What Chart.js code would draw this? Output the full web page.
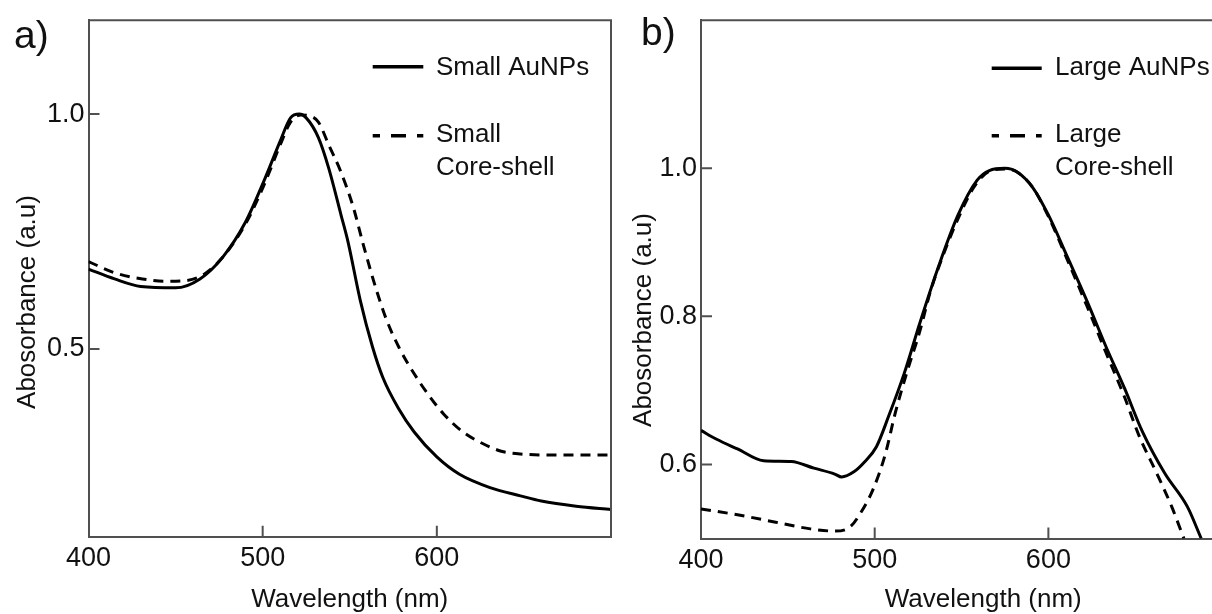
<!DOCTYPE html>
<html>
<head>
    <title>Absorbance spectra of AuNPs and core-shell particles</title>
    <script src="https://cdn.jsdelivr.net/npm/chart.js"></script>
    <style>
        html, body {
            margin: 0;
            padding: 0;
            background: #fff;
            width: 1212px;
            height: 614px;
            overflow: hidden;
        }
        canvas {
            position: absolute;
            top: 0;
        }
        #chartA { left: 0; }
        #chartB { left: 620px; }
    </style>
</head>
<body>
    <canvas id="chartA" width="620" height="614"></canvas>
    <canvas id="chartB" width="680" height="614"></canvas>

    <script>
        // ---- panel a) small particles ----
        const smallWl = [400, 415, 430, 450, 464, 477, 490, 501, 510, 516, 521, 525, 532, 538, 545, 549, 556, 563, 569, 578, 587, 600, 613, 631, 648, 660, 680, 700];
        const smallAuNPs = [0.670, 0.649, 0.633, 0.630, 0.649, 0.695, 0.769, 0.860, 0.942, 0.992, 1.000, 0.992, 0.950, 0.884, 0.785, 0.728, 0.604, 0.505, 0.439, 0.373, 0.323, 0.270, 0.233, 0.204, 0.187, 0.176, 0.165, 0.158];

        const smallCsWl = [400, 415, 431, 444, 455, 466, 477, 490, 501, 510, 516, 522, 527, 532, 538, 545, 552, 558, 565, 571, 578, 587, 596, 604, 615, 626, 637, 648, 668, 700];
        const smallCoreShell = [0.686, 0.662, 0.649, 0.644, 0.645, 0.658, 0.695, 0.765, 0.851, 0.934, 0.983, 0.998, 0.996, 0.983, 0.934, 0.876, 0.802, 0.719, 0.629, 0.563, 0.505, 0.447, 0.398, 0.361, 0.323, 0.299, 0.282, 0.276, 0.274, 0.274];

        // ---- panel b) large particles ----
        const largeWl = [400, 409, 421, 436, 452, 465, 477, 481, 488, 494, 501, 508, 517, 526, 537, 548, 559, 566, 575, 582, 591, 600, 611, 622, 633, 644, 654, 667, 680, 688];
        const largeAuNPs = [0.646, 0.634, 0.621, 0.605, 0.604, 0.595, 0.587, 0.583, 0.590, 0.603, 0.624, 0.665, 0.723, 0.791, 0.869, 0.937, 0.984, 0.997, 1.000, 0.995, 0.974, 0.937, 0.880, 0.822, 0.760, 0.702, 0.645, 0.588, 0.543, 0.500];

        const largeCsWl = [400, 421, 443, 463, 477, 486, 492, 499, 506, 512, 519, 526, 532, 539, 548, 557, 566, 575, 582, 591, 600, 611, 622, 633, 644, 652, 663, 671, 678];
        const largeCoreShell = [0.540, 0.532, 0.522, 0.513, 0.510, 0.516, 0.535, 0.566, 0.613, 0.671, 0.728, 0.780, 0.833, 0.880, 0.932, 0.974, 0.996, 0.999, 0.995, 0.974, 0.935, 0.876, 0.815, 0.752, 0.690, 0.640, 0.585, 0.543, 0.500];

        // tick values
        const aXTicks = [400, 500, 600];
        const aYTicks = [0.5, 1.0];
        const bXTicks = [400, 500, 600];
        const bYTicks = [0.6, 0.8, 1.0];

        const FONT = '"Liberation Sans", Arial, Helvetica, sans-serif';
        const AXIS_COLOR = '#505050';

        function toPoints(xs, ys) {
            return xs.map((x, i) => ({ x: x, y: ys[i] }));
        }

        function lineDataset(label, xs, ys, dashed) {
            return {
                label: label,
                data: toPoints(xs, ys),
                borderColor: '#000',
                borderWidth: 3,
                borderDash: dashed ? [10, 7] : [],
                pointRadius: 0,
                fill: false,
                cubicInterpolationMode: 'monotone'
            };
        }

        // frame, inward ticks, titles, panel letter and legend
        const framePlugin = {
            id: 'frame',
            afterDraw(chart, args, o) {
                const ctx = chart.ctx;
                const a = chart.chartArea;
                const off = o.offsetX;
                ctx.save();

                // top and right border
                ctx.strokeStyle = AXIS_COLOR;
                ctx.lineWidth = 2;
                ctx.beginPath();
                ctx.moveTo(a.left, a.top);
                ctx.lineTo(a.right, a.top);
                ctx.lineTo(a.right, a.bottom);
                ctx.stroke();

                // tick marks pointing inside the plot
                const xs = chart.scales.x, ys = chart.scales.y;
                ctx.beginPath();
                xs.ticks.forEach(t => {
                    if (t.value === xs.min) return;
                    const px = xs.getPixelForValue(t.value);
                    ctx.moveTo(px, a.bottom);
                    ctx.lineTo(px, a.bottom - 11);
                });
                ys.ticks.forEach(t => {
                    if (t.value === ys.min) return;
                    const py = ys.getPixelForValue(t.value);
                    ctx.moveTo(a.left, py);
                    ctx.lineTo(a.left + 11, py);
                });
                ctx.stroke();

                ctx.fillStyle = '#111';

                // x title
                ctx.font = '26px ' + FONT;
                ctx.textAlign = 'center';
                ctx.textBaseline = 'alphabetic';
                ctx.fillText(o.xTitle, (a.left + a.right) / 2, o.xTitleY);

                // y title (rotated)
                ctx.save();
                ctx.translate(o.yTitlePos[0] - off, o.yTitlePos[1]);
                ctx.rotate(-Math.PI / 2);
                ctx.textBaseline = 'middle';
                ctx.fillText(o.yTitle, 0, 0);
                ctx.restore();

                // panel letter
                ctx.font = '39px ' + FONT;
                ctx.textAlign = 'left';
                ctx.fillText(o.panel, o.panelPos[0] - off, o.panelPos[1]);

                // legend
                ctx.font = '26px ' + FONT;
                o.legend.forEach(item => {
                    const ds = chart.data.datasets[item.dataset];
                    ctx.save();
                    ctx.strokeStyle = ds.borderColor;
                    ctx.lineWidth = 3.5;
                    if (ds.borderDash.length) {
                        ctx.setLineDash([15, 11]);
                        ctx.lineDashOffset = 7.7;
                    }
                    ctx.beginPath();
                    ctx.moveTo(item.x - off, item.y);
                    ctx.lineTo(item.x + item.len - off, item.y);
                    ctx.stroke();
                    ctx.restore();
                    item.lines.forEach((txt, i) => {
                        ctx.fillText(txt, item.textX - off, item.baselines[i]);
                    });
                });

                ctx.restore();
            }
        };

        function makeChart(id, cfg) {
            const ctx = document.getElementById(id).getContext('2d');
            return new Chart(ctx, {
                type: 'line',
                data: { datasets: cfg.datasets },
                options: {
                    responsive: false,
                    animation: false,
                    devicePixelRatio: 1,
                    layout: { padding: cfg.padding },
                    plugins: {
                        legend: { display: false },
                        tooltip: { enabled: false },
                        frame: cfg.frame
                    },
                    scales: {
                        x: {
                            type: 'linear',
                            min: cfg.xMin,
                            max: cfg.xMax,
                            grid: { display: false, drawTicks: false },
                            border: { display: true, color: AXIS_COLOR, width: 2 },
                            afterBuildTicks: s => { s.ticks = cfg.xTicks.map(v => ({ value: v })); },
                            afterFit: s => { s.height = cfg.xHeight; },
                            ticks: {
                                font: { family: FONT, size: 27 },
                                color: '#111',
                                padding: 6,
                                maxRotation: 0,
                                autoSkip: false,
                                callback: v => String(v)
                            }
                        },
                        y: {
                            type: 'linear',
                            min: cfg.yMin,
                            max: cfg.yMax,
                            grid: { display: false, drawTicks: false },
                            border: { display: true, color: AXIS_COLOR, width: 2 },
                            afterBuildTicks: s => { s.ticks = cfg.yTicks.map(v => ({ value: v })); },
                            afterFit: s => { s.width = cfg.yWidth; },
                            ticks: {
                                font: { family: FONT, size: 27 },
                                color: '#111',
                                padding: 4,
                                autoSkip: false,
                                callback: v => Number(v).toFixed(1)
                            }
                        }
                    }
                },
                plugins: [framePlugin]
            });
        }

        document.addEventListener('DOMContentLoaded', function () {
            makeChart('chartA', {
                datasets: [
                    lineDataset('Small AuNPs', smallWl, smallAuNPs, false),
                    lineDataset('Small Core-shell', smallCsWl, smallCoreShell, true)
                ],
                xMin: 400, xMax: 700, yMin: 0.1, yMax: 1.2,
                xTicks: aXTicks, yTicks: aYTicks,
                padding: { top: 15, right: 9, left: 0, bottom: 0 },
                yWidth: 88.5, xHeight: 77.3,
                frame: {
                    offsetX: 0,
                    panel: 'a)', panelPos: [14, 48],
                    xTitle: 'Wavelength (nm)', xTitleY: 607,
                    yTitle: 'Abosorbance (a.u)', yTitlePos: [28, 302],
                    legend: [
                        { dataset: 0, x: 372.7, y: 66.7, len: 50.6, textX: 436, lines: ['Small AuNPs'], baselines: [75] },
                        { dataset: 1, x: 372.7, y: 135.7, len: 50.6, textX: 436, lines: ['Small', 'Core-shell'], baselines: [142, 175] }
                    ]
                }
            });

            makeChart('chartB', {
                datasets: [
                    lineDataset('Large AuNPs', largeWl, largeAuNPs, false),
                    lineDataset('Large Core-shell', largeCsWl, largeCoreShell, true)
                ],
                xMin: 400, xMax: 725, yMin: 0.5, yMax: 1.2,
                xTicks: bXTicks, yTicks: bYTicks,
                padding: { top: 15, right: 34.5, left: 0, bottom: 0 },
                yWidth: 81, xHeight: 75.5,
                frame: {
                    offsetX: 620,
                    panel: 'b)', panelPos: [641, 45],
                    xTitle: 'Wavelength (nm)', xTitleY: 607,
                    yTitle: 'Abosorbance (a.u)', yTitlePos: [644, 320],
                    legend: [
                        { dataset: 0, x: 991.7, y: 68.3, len: 50, textX: 1055, lines: ['Large AuNPs'], baselines: [75] },
                        { dataset: 1, x: 991.7, y: 135.7, len: 50, textX: 1055, lines: ['Large', 'Core-shell'], baselines: [142, 175] }
                    ]
                }
            });
        });
    </script>
</body>
</html>
